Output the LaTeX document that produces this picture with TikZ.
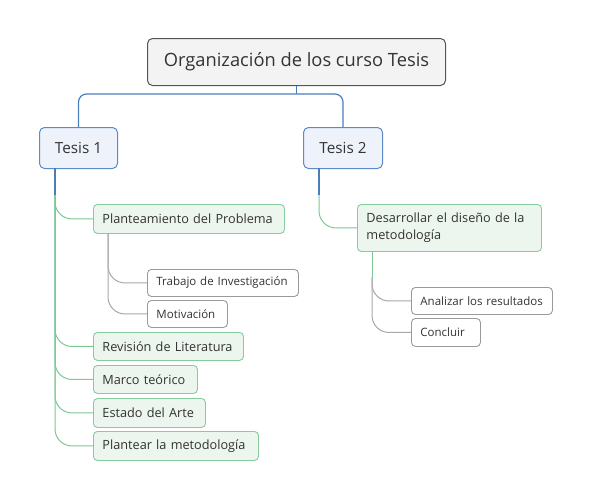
\documentclass[tikz,border=0pt]{standalone}
\usepackage{fontspec}
\setmainfont{Open Sans}
\definecolor{txt}{HTML}{333333}
\definecolor{rootfill}{HTML}{F3F3F3}
\definecolor{rootdraw}{HTML}{555555}
\definecolor{bfill}{HTML}{EEF3FB}
\definecolor{bdraw}{HTML}{5B8AC8}
\definecolor{bline}{HTML}{4A7EBB}
\definecolor{gfill}{HTML}{ECF5EE}
\definecolor{gdraw}{HTML}{86CC9C}
\definecolor{gline}{HTML}{7CC793}
\definecolor{grdraw}{HTML}{9A9A9A}
\definecolor{grline}{HTML}{A8A8A8}
\begin{document}
\begin{tikzpicture}[x=1pt,y=-1pt,
  every node/.style={text=txt},
  rootbox/.style={draw=rootdraw,fill=rootfill,line width=1pt,rounded corners=5pt,
    anchor=north west,inner sep=0pt,font=\fontsize{18.3}{21}\selectfont},
  tbox/.style={draw=bdraw,fill=bfill,line width=1pt,rounded corners=5pt,
    anchor=north west,inner sep=0pt,font=\fontsize{15.3}{18}\selectfont},
  gbox/.style={draw=gdraw,fill=gfill,line width=0.9pt,rounded corners=4pt,
    anchor=north west,inner xsep=9pt,inner ysep=0pt,align=left,
    font=\fontsize{12.7}{17}\selectfont},
  wbox/.style={draw=grdraw,fill=white,line width=0.9pt,rounded corners=4pt,
    anchor=north west,inner xsep=9pt,inner ysep=0pt,align=left,
    font=\fontsize{11.5}{14}\selectfont},
  bl/.style={draw=bline,line width=1.2pt},
  gl/.style={draw=gline,line width=1pt,rounded corners=17pt},
  grl/.style={draw=grline,line width=1pt,rounded corners=17pt}
]
\useasboundingbox (0,0) rectangle (591,498);

% root
\node[rootbox,minimum width=298pt,minimum height=47pt] (root) at (147,38) {Organización de los curso Tesis};
% level 1
\node[tbox,minimum width=78pt,minimum height=41pt] (t1) at (39,127) {Tesis 1};
\node[tbox,minimum width=79pt,minimum height=41pt] (t2) at (303,127) {Tesis 2};

% level 2 left
\node[gbox,text width=173pt,minimum height=29pt] (plan) at (93,204) {\mbox{Planteamiento del Problema}};
\node[gbox,text width=132pt,minimum height=28pt] (rev) at (93,332) {\mbox{Revisión de Literatura}};
\node[gbox,text width=86pt,minimum height=28pt] (marco) at (93,365) {\mbox{Marco teórico}};
\node[gbox,text width=94pt,minimum height=29pt] (estado) at (93,398) {\mbox{Estado del Arte}};
\node[gbox,text width=147pt,minimum height=29pt] (plantear) at (93,431) {\mbox{Plantear la metodología}};

% level 3 left
\node[wbox,text width=133pt,minimum height=27pt] (trab) at (147,269) {\mbox{Trabajo de Investigación}};
\node[wbox,text width=62pt,minimum height=27pt] (motiv) at (147,300) {\mbox{Motivación}};

% level 2 right
\node[gbox,text width=166pt,minimum height=47pt] (des) at (357,204) {\mbox{Desarrollar el diseño de la}\\metodología};

% level 3 right
\node[wbox,text width=123pt,minimum height=27pt] (anal) at (411,287) {\mbox{Analizar los resultados}};
\node[wbox,text width=51pt,minimum height=28pt] (conc) at (411,318) {\mbox{Concluir}};

% root connectors
\coordinate (rj) at ([yshift=-8pt]root.south);
\draw[bl] (root.south) -- (rj);
\draw[bl,rounded corners=8pt] (rj) -| (t1.north);
\draw[bl,rounded corners=8pt] (rj) -| (t2.north);

% Tesis 1 connectors
\coordinate (t1s) at (55,168);
\coordinate (t1g) at (55,195);
\draw[bl] (t1s) -- (t1g);
\foreach \n in {plan,rev,marco,estado,plantear}
  \draw[gl] (t1g) |- (\n.west);

% Planteamiento children
\coordinate (ps) at (108,233);
\draw[grl] (ps) |- (trab.west);
\draw[grl] (ps) |- (motiv.west);

% Tesis 2 connectors
\coordinate (t2s) at (319,168);
\coordinate (t2g) at (319,195);
\draw[bl] (t2s) -- (t2g);
\draw[gl] (t2g) |- (des.west);

% Desarrollar children
\coordinate (ds) at (372,251);
\coordinate (dg) at (372,277);
\draw[draw=gline,line width=1pt] (ds) -- (dg);
\draw[grl] (dg) |- (anal.west);
\draw[grl] (dg) |- (conc.west);
\end{tikzpicture}
\end{document}
